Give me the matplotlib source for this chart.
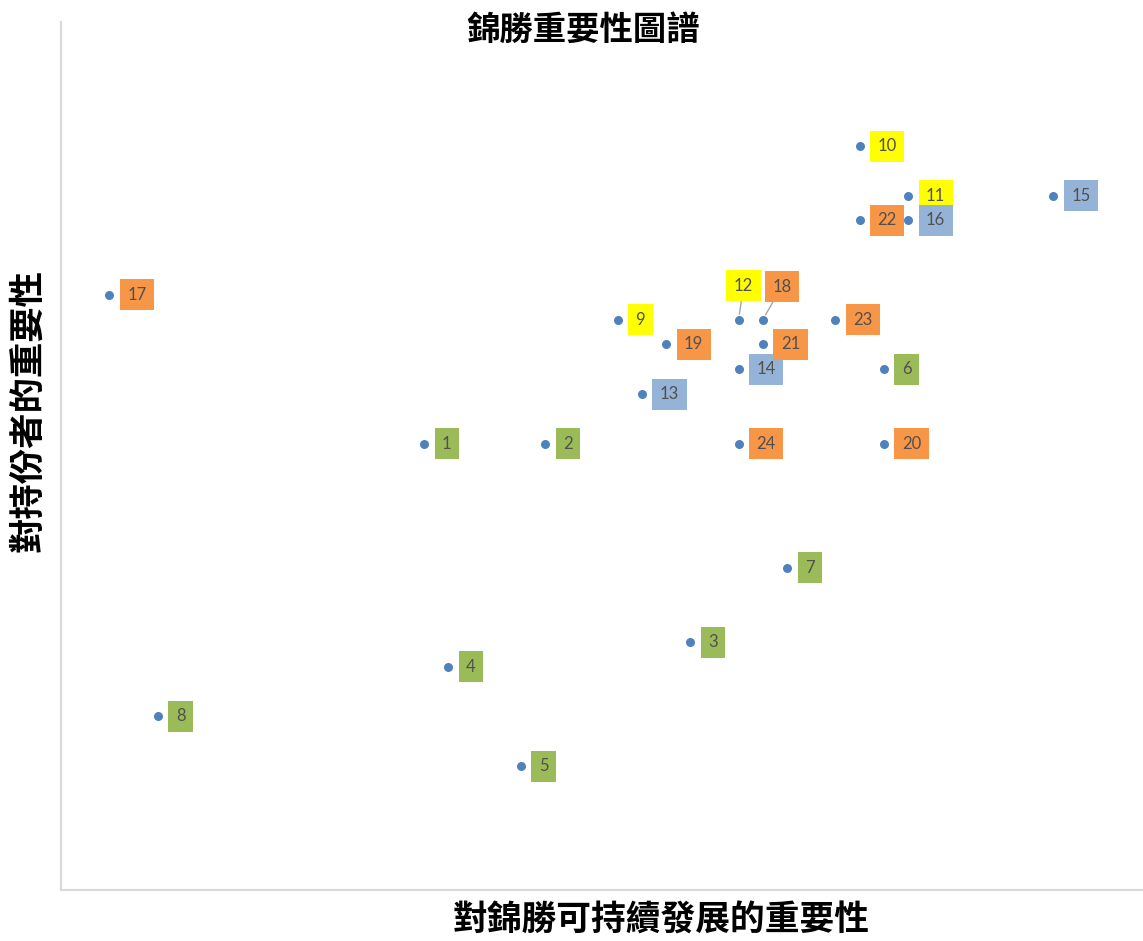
import matplotlib
matplotlib.use("Agg")
import matplotlib.pyplot as plt

# ---- data ----
labels = ["1", "2", "3", "4", "5", "6", "7", "8", "9", "10", "11", "12",
          "13", "14", "15", "16", "17", "18", "19", "20", "21", "22", "23", "24"]
x_sustain = [15, 20, 26, 16, 19, 34, 30, 4, 23, 33, 35, 28,
             24, 28, 41, 35, 2, 29, 25, 34, 29, 33, 32, 28]
y_stake = [18, 18, 10, 9, 5, 21, 13, 7, 23, 30, 28, 23,
           20, 21, 28, 27, 24, 23, 22, 18, 22, 27, 23, 18]
groups = ["g", "g", "g", "g", "g", "g", "g", "g", "y", "y", "y", "y",
          "b", "b", "b", "b", "o", "o", "o", "o", "o", "o", "o", "o"]

title = "錦勝重要性圖譜"
xlabel = "對錦勝可持續發展的重要性"
ylabel = "對持份者的重要性"

group_colors = {"g": "#9BBB59", "y": "#FFFF00", "b": "#95B3D7", "o": "#F79646"}
leader_offsets = {"12": (5, -34), "18": (19, -33)}  # pixels, for labels with leader lines

W, H = 1143, 941
fig = plt.figure(figsize=(W / 100, H / 100), dpi=100)
ax_left, ax_right, ax_top, ax_bottom = 61, 1142, 22, 890
ax = fig.add_axes([ax_left / W, (H - ax_bottom) / H,
                   (ax_right - ax_left) / W, (ax_bottom - ax_top) / H])

ax.scatter(x_sustain, y_stake, s=42, color="#4F81BD", zorder=3, linewidths=0)
ax.set_xlim(0, (ax_right - ax_left) / 24.2)
ax.set_ylim(0, 35)

for sp in ["top", "right"]:
    ax.spines[sp].set_visible(False)
for sp in ["left", "bottom"]:
    ax.spines[sp].set_color("#D9D9D9")
    ax.spines[sp].set_linewidth(1.5)
ax.set_xticks([])
ax.set_yticks([])

px = 0.72  # points per pixel
for lab, xv, yv, g in zip(labels, x_sustain, y_stake, groups):
    bbox = dict(boxstyle="square,pad=0.45", fc=group_colors[g], ec="none")
    if lab in leader_offsets:
        dx, dy = leader_offsets[lab]
        ax.annotate(lab, (xv, yv), xytext=(dx * px, -dy * px), textcoords="offset points",
                    ha="center", va="center", fontsize=12, color="#505050",
                    family="Lato", bbox=bbox, zorder=4,
                    arrowprops=dict(arrowstyle="-", color="#A6A6A6", lw=1,
                                    shrinkA=0, shrinkB=4))
    else:
        ax.annotate(lab, (xv, yv), xytext=(18 * px, 0), textcoords="offset points",
                    ha="left", va="center", fontsize=12, color="#505050",
                    family="Lato", bbox=bbox, zorder=4)

cjk = ["Noto Sans CJK TC", "DejaVu Sans"]
fig.text(583 / W, 1 - 30 / H, title, ha="center", va="center", fontsize=24,
         family=cjk, weight="bold", color="#000000")
fig.text(661 / W, 1 - 920 / H, xlabel, ha="center", va="center", fontsize=25,
         family=cjk, weight="bold", color="#000000")
fig.text(28 / W, 1 - 411 / H, ylabel, ha="center", va="center", fontsize=25.5,
         family=cjk, weight="bold", color="#000000", rotation=90)

fig.savefig("out.png", dpi=100, facecolor="white")
